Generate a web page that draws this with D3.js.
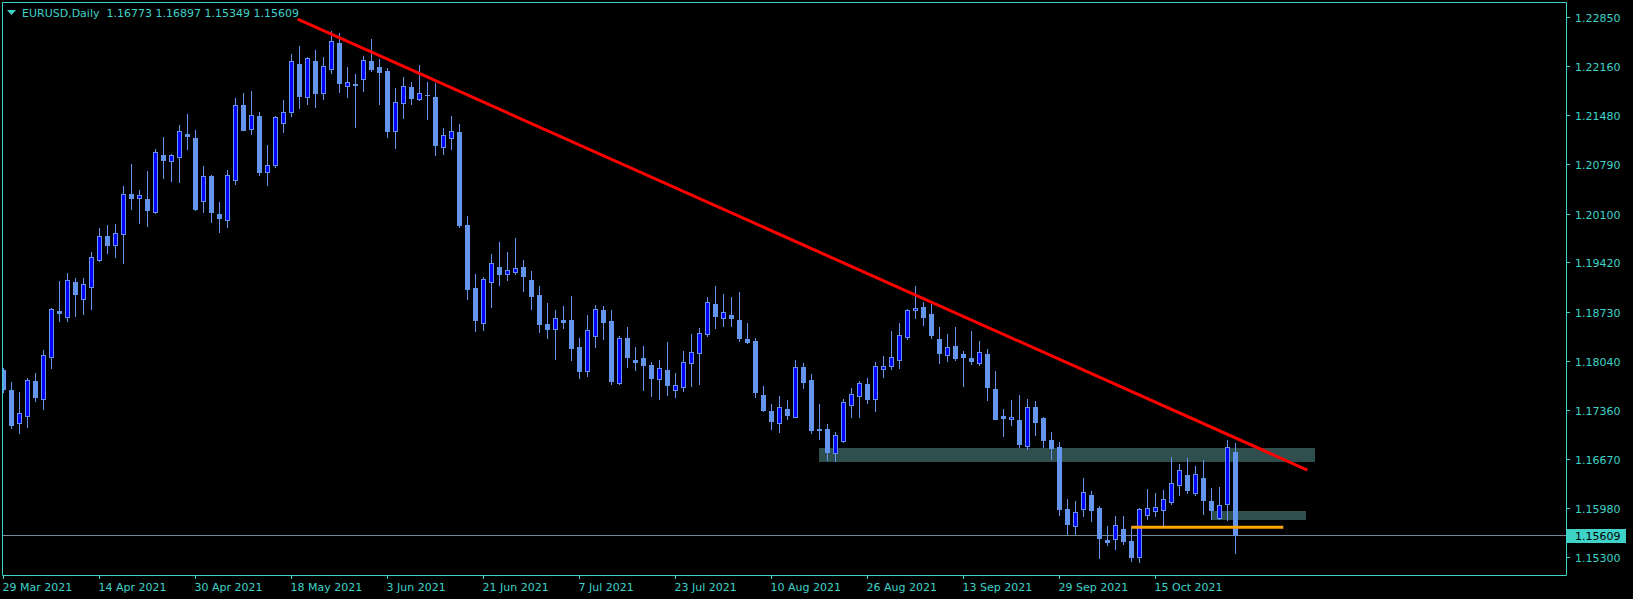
<!DOCTYPE html>
<html><head><meta charset="utf-8">
<script src="https://cdn.jsdelivr.net/npm/d3@7"></script>
<style>
html,body{margin:0;padding:0;background:#000;overflow:hidden;}
svg{display:block;}
text{font-family:"DejaVu Sans",sans-serif;font-size:11px;}
</style></head><body>
<svg id="chart" width="1633" height="599"></svg>
<script>
// ---------------- data ----------------
const symbolTitle = "EURUSD,Daily";
const firstDate = "2021-03-29";
const openP = [1.17914,1.17635,1.17169,1.17276,1.17761,1.17513,1.18092,1.18739,1.18660,1.19145,
1.18912,1.19080,1.19457,1.19790,1.19660,1.19820,1.20380,1.20324,1.20305,1.20128,
1.20921,1.20841,1.20897,1.21214,1.21153,1.20273,1.20627,1.20091,1.20007,1.20566,
1.21620,1.21279,1.21461,1.20678,1.20780,1.21363,1.21517,1.22193,1.21727,1.22235,
1.21783,1.22128,1.22482,1.21881,1.21915,1.21988,1.22230,1.22151,1.22095,1.21251,
1.21643,1.21871,1.21708,1.21760,1.21731,1.21028,1.21163,1.21242,1.19942,1.19061,
1.18576,1.19149,1.19355,1.19252,1.19289,1.19355,1.19173,1.18963,1.18557,1.18492,
1.18618,1.18613,1.18236,1.17905,1.18394,1.18749,1.18600,1.17737,1.18362,1.18054,
1.18082,1.17984,1.17793,1.17914,1.17630,1.17681,1.18017,1.18157,1.18422,1.18837,
1.18637,1.18679,1.18614,1.18348,1.18320,1.17565,1.17341,1.17178,1.17369,1.17262,
1.17956,1.17775,1.17085,1.17089,1.16759,1.16927,1.17420,1.17546,1.17714,1.17514,
1.17924,1.17966,1.18050,1.18371,1.18749,1.18795,1.18697,1.18343,1.18129,1.18250,
1.18138,1.18082,1.18017,1.18138,1.17649,1.17271,1.17224,1.17215,1.16852,1.17397,
1.17243,1.16936,1.16838,1.15971,1.15738,1.15976,1.16167,1.15985,1.15537,1.15547,
1.15691,1.15523,1.15295,1.15882,1.15938,1.15952,1.16073,1.16302,1.16442,1.16199,
1.16405,1.16083,1.15850,1.16036,1.16773];
const highP = [1.17938,1.17747,1.17607,1.17803,1.17873,1.18194,1.18777,1.19159,1.19271,1.19201,
1.19201,1.19564,1.19900,1.19940,1.19950,1.20490,1.20800,1.20431,1.20697,1.21000,
1.21177,1.20930,1.21340,1.21494,1.21265,1.20762,1.20641,1.20263,1.20711,1.21711,
1.21787,1.21815,1.21517,1.21060,1.21466,1.21690,1.22333,1.22445,1.22291,1.22389,
1.22286,1.22650,1.22622,1.22151,1.22053,1.22305,1.22542,1.22263,1.22132,1.21853,
1.22011,1.21941,1.22179,1.21941,1.21923,1.21293,1.21466,1.21354,1.20068,1.19257,
1.19215,1.19536,1.19704,1.19564,1.19760,1.19452,1.19299,1.19089,1.18851,1.18753,
1.18809,1.18949,1.18362,1.18683,1.18823,1.18805,1.18753,1.18385,1.18516,1.18236,
1.18250,1.18026,1.18054,1.18306,1.17872,1.18180,1.18418,1.18497,1.18931,1.19089,
1.18977,1.18935,1.19005,1.18572,1.18357,1.17691,1.17439,1.17551,1.17495,1.18054,
1.18012,1.17863,1.17439,1.17159,1.17043,1.17509,1.17663,1.17756,1.17803,1.18022,
1.18106,1.18460,1.18571,1.18767,1.19089,1.18865,1.18837,1.18516,1.18418,1.18516,
1.18180,1.18460,1.18320,1.18208,1.17900,1.17369,1.17495,1.17565,1.17509,1.17481,
1.17257,1.17047,1.16908,1.16111,1.16083,1.16404,1.16223,1.16013,1.15733,1.15873,
1.15873,1.15724,1.15985,1.16251,1.16195,1.16237,1.16698,1.16600,1.16684,1.16572,
1.16656,1.16265,1.16279,1.16936,1.16897];
const lowP = [1.17611,1.17108,1.17038,1.17122,1.17485,1.17374,1.17947,1.18604,1.18604,1.18674,
1.18702,1.18772,1.19438,1.19555,1.19499,1.19415,1.20160,1.19974,1.19932,1.20114,
1.20604,1.20562,1.20548,1.21009,1.20156,1.20128,1.19988,1.19849,1.19918,1.20520,
1.21275,1.21219,1.20646,1.20506,1.20750,1.21247,1.21470,1.21582,1.21634,1.21592,
1.21708,1.22072,1.21806,1.21736,1.21317,1.21820,1.22100,1.21638,1.21177,1.21023,
1.21443,1.21638,1.21694,1.21424,1.20925,1.20939,1.21009,1.19920,1.18912,1.18464,
1.18478,1.18800,1.19107,1.19178,1.19262,1.19024,1.18772,1.18450,1.18366,1.18073,
1.18502,1.18059,1.17807,1.17835,1.18241,1.18353,1.17723,1.17723,1.17961,1.17914,
1.17639,1.17555,1.17513,1.17569,1.17541,1.17625,1.17695,1.17723,1.18394,1.18506,
1.18534,1.18534,1.18325,1.18287,1.17541,1.17346,1.17089,1.17048,1.17234,1.17262,
1.17663,1.17040,1.16945,1.16660,1.16640,1.16913,1.17262,1.17262,1.17458,1.17346,
1.17821,1.17924,1.17938,1.18343,1.18646,1.18548,1.18366,1.18017,1.18045,1.18060,
1.17691,1.18003,1.17989,1.17495,1.17229,1.16992,1.17145,1.16838,1.16810,1.17006,
1.16838,1.16670,1.15887,1.15621,1.15621,1.15878,1.15808,1.15290,1.15467,1.15412,
1.15481,1.15248,1.15234,1.15836,1.15873,1.15733,1.16045,1.16167,1.16199,1.16171,
1.15906,1.15836,1.15836,1.15822,1.15349];
const closeP = [1.17653,1.17150,1.17309,1.17775,1.17541,1.18120,1.18763,1.18716,1.19168,1.18982,
1.19112,1.19490,1.19790,1.19660,1.19830,1.20380,1.20320,1.20357,1.20156,1.20958,
1.20855,1.20916,1.21251,1.21191,1.20170,1.20622,1.20128,1.20044,1.20636,1.21625,
1.21275,1.21475,1.20688,1.20776,1.21448,1.21517,1.22230,1.21750,1.22272,1.21792,
1.22160,1.22510,1.21923,1.21937,1.21905,1.22244,1.22128,1.22086,1.21261,1.21657,
1.21881,1.21722,1.21783,1.21758,1.21065,1.21196,1.21256,1.19946,1.19051,1.18618,
1.19187,1.19406,1.19262,1.19313,1.19336,1.19234,1.18954,1.18562,1.18492,1.18637,
1.18590,1.18227,1.17905,1.18469,1.18763,1.18590,1.17765,1.18357,1.18101,1.18031,
1.17989,1.17807,1.17942,1.17709,1.17700,1.18022,1.18161,1.18427,1.18861,1.18674,
1.18721,1.18646,1.18366,1.18311,1.17611,1.17355,1.17206,1.17397,1.17285,1.17950,
1.17751,1.17075,1.17080,1.16768,1.17001,1.17462,1.17574,1.17728,1.17514,1.17966,
1.17966,1.18091,1.18399,1.18749,1.18777,1.18660,1.18408,1.18157,1.18232,1.18087,
1.18101,1.18040,1.18166,1.17677,1.17229,1.17248,1.17252,1.16880,1.17392,1.17187,
1.16936,1.16824,1.15971,1.15766,1.15929,1.16204,1.15962,1.15570,1.15509,1.15742,
1.15528,1.15304,1.15971,1.15980,1.15994,1.16106,1.16330,1.16512,1.16241,1.16456,
1.16101,1.15962,1.16022,1.16833,1.15609];
const priceTicks = [1.22850,1.22160,1.21480,1.20790,1.20100,1.19420,1.18730,1.18040,1.17360,1.16670,1.15980,1.15300];
const lastPrice = 1.15609;
const dateTickEvery = 12;
// objects drawn on the chart (bar index, price)
const trendLine = [[36.8, 1.22820], [163.0, 1.16516]];
const zones = [
  {from: 101.9, to: 163.9, low: 1.16628, high: 1.16824},
  {from: 151.0, to: 162.8, low: 1.15817, high: 1.15943}
];
const supportLine = {from: 141, to: 160, price: 1.15715};

// ---------------- drawing ----------------
const W = 1633, H = 599;
const frame = {left: 2, top: 2, right: 1566, bottom: 575};
const FG = "#3fd3c8";
const BULL_FILL = "#0000ff", CANDLE = "#6495ed";

const N = openP.length;
const bars = d3.range(N).map(i => ({i, o: openP[i], h: highP[i], l: lowP[i], c: closeP[i]}));
// trading dates (weekdays)
const dates = [];
{
  let d = new Date(firstDate + "T00:00:00Z");
  while (dates.length < N) {
    const wd = d.getUTCDay();
    if (wd !== 0 && wd !== 6) dates.push(new Date(d));
    d = new Date(d.getTime() + 86400000);
  }
}
const fmt = d3.utcFormat("%-d %b %Y");

const x = d3.scaleLinear().domain([0, 195]).range([3.3, 3.3 + 8 * 195]);
const y = d3.scaleLinear().domain([1.15300, 1.22850]).range([557, 17]);
const px = v => Math.floor(x(v)) + 0.5;
const py = v => Math.round(y(v));

const svg = d3.select("#chart");
svg.append("rect").attr("width", W).attr("height", H).attr("fill", "#000");

svg.append("defs").append("clipPath").attr("id", "plot")
  .append("rect").attr("x", frame.left + 1).attr("y", frame.top + 1)
  .attr("width", frame.right - frame.left - 1).attr("height", frame.bottom - frame.top - 1);

const plot = svg.append("g").attr("clip-path", "url(#plot)");

// zones (background)
plot.selectAll("rect.zone").data(zones).join("rect").attr("class", "zone")
  .attr("x", d => Math.round(x(d.from)))
  .attr("width", d => Math.round(x(d.to)) - Math.round(x(d.from)))
  .attr("y", d => py(d.high))
  .attr("height", d => py(d.low) - py(d.high))
  .attr("fill", "#2f4f4f");

// current price line
plot.append("line")
  .attr("x1", frame.left).attr("x2", frame.right)
  .attr("y1", py(lastPrice) + 0.5).attr("y2", py(lastPrice) + 0.5)
  .attr("stroke", "#778899").attr("stroke-width", 1);

// candles
const cg = plot.append("g");
cg.selectAll("line.wick").data(bars).join("line").attr("class", "wick")
  .attr("x1", d => px(d.i)).attr("x2", d => px(d.i))
  .attr("y1", d => py(d.h)).attr("y2", d => py(d.l) + 1)
  .attr("stroke", CANDLE).attr("stroke-width", 1);
cg.selectAll("rect.body").data(bars).join("rect").attr("class", "body")
  .each(function(d) {
    const top = py(Math.max(d.o, d.c)), bot = py(Math.min(d.o, d.c));
    const s = d3.select(this);
    if (d.c > d.o) {
      s.attr("x", px(d.i) - 2).attr("width", 4)
       .attr("y", top + 0.5).attr("height", Math.max(bot - top, 0))
       .attr("fill", BULL_FILL).attr("stroke", CANDLE).attr("stroke-width", 1);
    } else {
      s.attr("x", px(d.i) - 2.5).attr("width", 5)
       .attr("y", top).attr("height", Math.max(bot - top + 1, 1))
       .attr("fill", CANDLE);
    }
  });

// trend line
plot.append("line")
  .attr("x1", x(trendLine[0][0])).attr("y1", y(trendLine[0][1]))
  .attr("x2", x(trendLine[1][0])).attr("y2", y(trendLine[1][1]))
  .attr("stroke", "#ff0000").attr("stroke-width", 3);

// support line
plot.append("line")
  .attr("x1", x(supportLine.from)).attr("x2", x(supportLine.to))
  .attr("y1", y(supportLine.price)).attr("y2", y(supportLine.price))
  .attr("stroke", "#ffa500").attr("stroke-width", 3);

// frame
svg.append("path")
  .attr("d", `M${frame.left + 0.5},${frame.bottom + 0.5}V${frame.top + 0.5}H${frame.right + 0.5}V${frame.bottom + 0.5}H${frame.left + 0.5}`)
  .attr("fill", "none").attr("stroke", FG).attr("stroke-width", 1);

// price axis
const pa = svg.append("g");
pa.selectAll("line").data(priceTicks).join("line")
  .attr("x1", frame.right + 1).attr("x2", frame.right + 4)
  .attr("y1", d => py(d) + 0.5).attr("y2", d => py(d) + 0.5)
  .attr("stroke", FG);
pa.selectAll("text").data(priceTicks).join("text")
  .attr("x", frame.right + 9).attr("y", d => py(d) + 4.5)
  .attr("fill", FG).text(d => d.toFixed(5));

// last price box
const ly = py(lastPrice);
svg.append("rect").attr("x", frame.right + 1).attr("y", ly - 6).attr("width", 59).attr("height", 14).attr("fill", FG);
svg.append("text").attr("x", frame.right + 9).attr("y", ly + 5).attr("fill", "#000").text(lastPrice.toFixed(5));

// time axis
const tickIdx = d3.range(0, N, dateTickEvery);
const ta = svg.append("g");
ta.selectAll("line").data(tickIdx).join("line")
  .attr("x1", d => px(d)).attr("x2", d => px(d))
  .attr("y1", frame.bottom + 1).attr("y2", frame.bottom + 4)
  .attr("stroke", FG);
ta.selectAll("text").data(tickIdx).join("text")
  .attr("x", d => px(d) - 1).attr("y", 591)
  .attr("fill", FG).text(d => fmt(dates[d]));

// header
svg.append("path").attr("d", "M7,10H16L11.5,15Z").attr("fill", FG);
const last = bars[N - 1];
svg.append("text").attr("x", 22).attr("y", 17).attr("fill", FG)
  .style("white-space", "pre")
  .text(`${symbolTitle}  ${last.o.toFixed(5)} ${last.h.toFixed(5)} ${last.l.toFixed(5)} ${last.c.toFixed(5)}`);
</script>
</body></html>
